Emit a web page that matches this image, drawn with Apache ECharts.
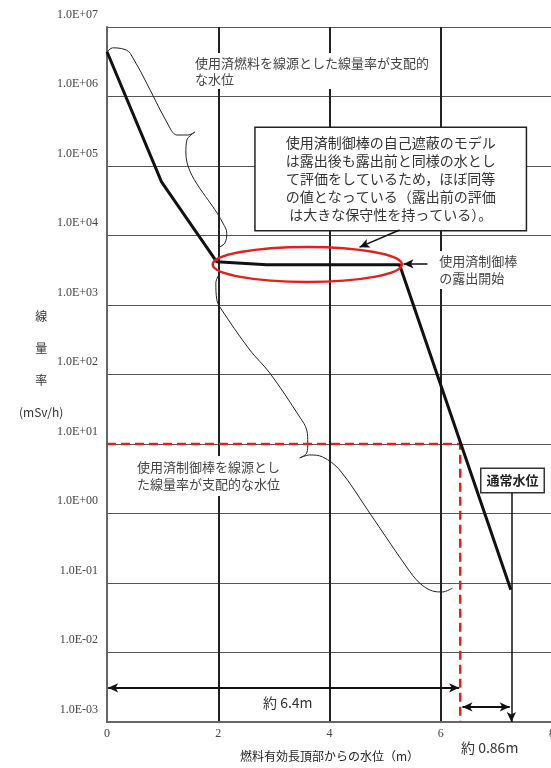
<!DOCTYPE html>
<html>
<head>
<meta charset="utf-8">
<title>線量率</title>
<script src="https://cdn.jsdelivr.net/npm/echarts@6/dist/echarts.min.js"></script>
<style>
  html, body, #main { width: 100%; height: 100%; margin: 0; padding: 0; background: #fff; }
</style>
</head>
<body>
<div id="main"></div>
<script>
var JP = '"Noto Sans CJK JP", sans-serif';
var NUM = '"Liberation Serif", serif';

// 線量率 (mSv/h) 対 燃料有効長頂部からの水位 (m)
var levelX = [0, 0.98, 1.97, 2.87, 5.26, 7.26];
var doseY = [4.4e6, 5.9e4, 4.2e3, 3.8e3, 3.8e3, 0.08];

// 10 mSv/h になる水位 (約6.4m)
var limitX = [0, 6.35, 6.35];
var limitY = [10, 10, 0.001];

// 波括弧 [x, log10(線量率)]
var brace1a = [[0, 6.64], [0.1, 6.7], [0.26, 6.69], [0.42, 6.62], [1.131, 5.547], [1.257, 5.446], [1.454, 5.446], [1.58, 5.489]];
var brace1b = [[1.58, 5.489], [1.436, 5.374], [1.418, 5.187], [2.083, 4.18], [2.154, 4.036], [2.118, 3.892], [1.993, 3.82]];
var brace2a = [[2.029, 3.46], [1.957, 3.317], [1.975, 3.072], [2.029, 2.971], [2.567, 2.353], [2.926, 2.022], [3.465, 1.388], [3.591, 1.201], [3.609, 1.014], [3.591, 0.871], [3.465, 0.799]];
var brace2b = [[3.465, 0.799], [3.645, 0.842], [3.878, 0.813], [4.183, 0.626], [4.722, 0.007], [5.386, -0.77], [5.619, -1.0], [5.853, -1.115], [6.032, -1.129], [6.212, -1.072]];

var xName = '燃料有効長頂部からの水位（m）';
var boxText = ['使用済制御棒の自己遮蔽のモデル',
               'は露出後も露出前と同様の水とし',
               'て評価をしているため，ほぼ同等',
               'の値となっている（露出前の評価',
               'は大きな保守性を持っている）。'].join('\n');

function zip(xs, ys) {
  return xs.map(function (x, i) { return [x, ys[i]]; });
}
function fromLog(pts) {
  return pts.map(function (p) { return [p[0], Math.pow(10, p[1])]; });
}
function fmtExp(v) {
  var e = Math.round(Math.log10(v));
  var a = Math.abs(e);
  return '1.0E' + (e < 0 ? '-' : '+') + (a < 10 ? '0' : '') + a;
}
function braceSeries(pts) {
  return {
    type: 'line', data: fromLog(pts), symbol: 'none', smooth: 0.35, silent: true, z: 3,
    lineStyle: { color: '#222', width: 1 }
  };
}
function seg(x1, y1, x2, y2) {
  return [{ coord: [x1, y1] }, { coord: [x2, y2] }];
}

var chart = echarts.init(document.getElementById('main'));

chart.setOption({
  animation: false,
  grid: { left: 107, right: -1, top: 27, bottom: 46, outerBoundsMode: 'none', containLabel: false },
  xAxis: {
    type: 'value', min: 0, max: 8, interval: 2,
    name: xName, nameLocation: 'middle', nameGap: 28,
    nameTextStyle: { fontFamily: JP, fontSize: 12, color: '#222' },
    axisLine: { lineStyle: { color: '#666', width: 2 } },
    axisTick: { show: false },
    axisLabel: { fontFamily: NUM, fontSize: 12, color: '#444', margin: 6 },
    splitLine: { lineStyle: { color: '#222', width: 2 } }
  },
  yAxis: {
    type: 'log', logBase: 10, min: 0.001, max: 1e7, interval: 1,
    axisLine: { show: true, lineStyle: { color: '#666', width: 2 } },
    axisTick: { show: false },
    axisLabel: {
      formatter: fmtExp, fontFamily: NUM, fontSize: 12, color: '#444',
      margin: 9, verticalAlign: 'bottom', lineHeight: 25
    },
    splitLine: { lineStyle: { color: '#555', width: 1.2 } }
  },
  series: [
    {
      type: 'line', data: zip(levelX, doseY), symbol: 'none', silent: true, z: 5,
      lineStyle: { color: '#111', width: 3 }
    },
    {
      type: 'line', data: zip(limitX, limitY), symbol: 'none', silent: true, z: 4,
      lineStyle: { color: '#e3211c', width: 2.5, type: [9, 5] }
    },
    braceSeries(brace1a),
    braceSeries(brace1b),
    braceSeries(brace2a),
    braceSeries(brace2b),
    {
      type: 'line', data: [], silent: true,
      markLine: {
        silent: true, symbol: ['none', 'arrow'], symbolSize: [7, 10],
        label: { show: false },
        lineStyle: { color: '#111', width: 1.5, type: 'solid' },
        data: [
          seg(5.26, 1.2e4, 4.54, 6.8e3),
          seg(5.76, 3.9e3, 5.33, 3.9e3),
          seg(7.27, 1.97, 7.27, 0.001)
        ]
      }
    },
    {
      type: 'line', data: [], silent: true,
      markLine: {
        silent: true, symbol: ['arrow', 'arrow'], symbolSize: [7, 10],
        label: { show: false },
        lineStyle: { color: '#111', width: 2, type: 'solid' },
        data: [
          seg(0.02, 3.1e-3, 6.33, 3.1e-3),
          seg(6.39, 1.65e-3, 7.24, 1.65e-3)
        ]
      }
    }
  ]
});

function px(x, ly) {
  return chart.convertToPixel({ gridIndex: 0 }, [x, Math.pow(10, ly)]);
}
function note(x, ly, text, st) {
  var p = px(x, ly);
  var style = {
    text: text, fontFamily: JP, fontSize: 13, fill: '#444', lineHeight: 17,
    align: 'left', verticalAlign: 'top', textAlign: 'left', textVerticalAlign: 'top'
  };
  for (var k in st) style[k] = st[k];
  return { type: 'text', x: p[0], y: p[1], z: 1, silent: true, style: style };
}

var ec = px(3.6, 3.583);
var er = px(5.3, 3.583);
var et = px(3.6, 3.835);

chart.setOption({
  graphic: [
    note(1.51, 6.625, '使用済燃料を線源とした線量率が支配的\nな水位',
      { lineHeight: 16, backgroundColor: '#fff', padding: [2, 4] }),
    note(5.1, 4.813, boxText, {
      fontSize: 14, lineHeight: 18, fill: '#333', backgroundColor: '#fff',
      borderColor: '#222', borderWidth: 1.5, padding: [6, 30],
      align: 'center', verticalAlign: 'middle', textAlign: 'center', textVerticalAlign: 'middle'
    }),
    note(5.9, 3.777, '使用済制御棒\nの露出開始', { backgroundColor: '#fff', padding: [2, 4] }),
    note(0.485, 0.827, '使用済制御棒を線源とし\nた線量率が支配的な水位', { backgroundColor: '#fff', padding: [3, 3] }),
    note(7.29, 0.475, '通常水位', {
      fontWeight: 'bold', fill: '#222', backgroundColor: '#fff',
      borderColor: '#333', borderWidth: 1.5, padding: [3, 5],
      align: 'center', verticalAlign: 'middle', textAlign: 'center', textVerticalAlign: 'middle'
    }),
    note(3.25, -2.727, '約 6.4m', {
      fontSize: 14, fill: '#333', align: 'center', verticalAlign: 'middle',
      textAlign: 'center', textVerticalAlign: 'middle'
    }),
    note(6.88, -3.374, '約 0.86m', {
      fontSize: 14, fill: '#333', align: 'center', verticalAlign: 'middle',
      textAlign: 'center', textVerticalAlign: 'middle'
    }),
    {
      type: 'text', left: 19, top: 300, silent: true,
      style: {
        text: '線\n量\n率\n(mSv/h)', fontFamily: JP, fontSize: 12, fill: '#333', lineHeight: 32,
        align: 'center', textAlign: 'center'
      }
    },
    {
      type: 'ellipse', z: 10, silent: true,
      shape: { cx: ec[0], cy: ec[1], rx: er[0] - ec[0], ry: ec[1] - et[1] },
      style: { fill: 'none', stroke: '#e3211c', lineWidth: 2.5 }
    }
  ]
});
</script>
</body>
</html>
